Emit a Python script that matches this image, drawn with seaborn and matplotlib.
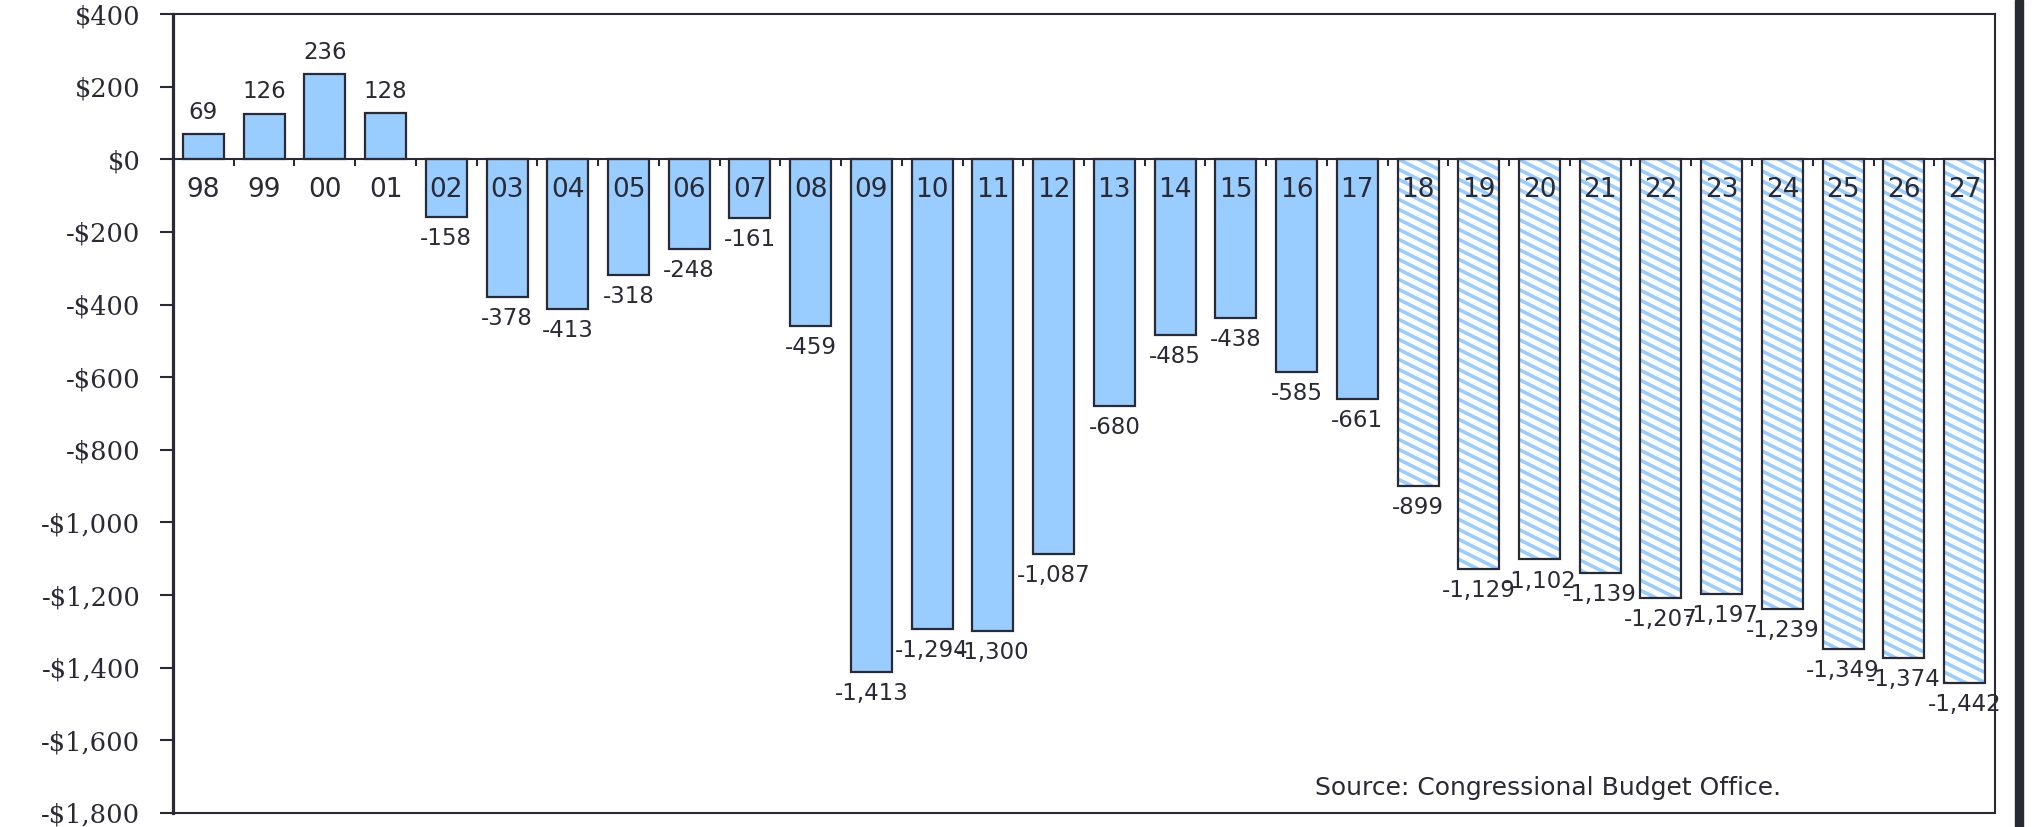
import numpy as np
import pandas as pd
import matplotlib
matplotlib.use("Agg")
import matplotlib.pyplot as plt
import matplotlib.hatch as mhatch
from matplotlib.path import Path
from matplotlib.patches import Rectangle
import seaborn as sns

# ---------------- data ----------------
years = ['98', '99', '00', '01', '02', '03', '04', '05', '06', '07', '08', '09',
         '10', '11', '12', '13', '14', '15', '16', '17', '18', '19', '20', '21',
         '22', '23', '24', '25', '26', '27']
deficits = [69, 126, 236, 128, -158, -378, -413, -318, -248, -161, -459, -1413,
            -1294, -1300, -1087, -680, -485, -438, -585, -661, -899, -1129,
            -1102, -1139, -1207, -1197, -1239, -1349, -1374, -1442]
first_projected = '18'
y_ticks = [400, 200, 0, -200, -400, -600, -800, -1000, -1200, -1400, -1600, -1800]
source_note = "Source: Congressional Budget Office."

BLUE = '#99CCFF'
DARK = '#2a2a35'


# shallower "\" hatch (the reference is horizontally stretched)
class ShallowSEHatch(mhatch.HatchPatternBase):
    def __init__(self, hatch, density):
        self.num_lines = int(round(hatch.count('\\') * density * 5 / 6))
        if self.num_lines:
            self.ks = np.arange(-2, int(1.5 * self.num_lines) + 3)
            self.num_vertices = len(self.ks) * 2
        else:
            self.num_vertices = 0

    def set_vertices_and_codes(self, vertices, codes):
        c = self.ks / self.num_lines
        x0, x1 = -0.2, 1.2
        vertices[0::2, 0] = x0
        vertices[0::2, 1] = c - 0.5 * x0
        vertices[1::2, 0] = x1
        vertices[1::2, 1] = c - 0.5 * x1
        codes[0::2] = Path.MOVETO
        codes[1::2] = Path.LINETO


if hasattr(mhatch, '_hatch_types'):
    mhatch._hatch_types = [ShallowSEHatch if t is mhatch.SouthEastHatch else t
                           for t in mhatch._hatch_types]

sns.set_style('white')
plt.rcParams['font.family'] = ['DejaVu Sans']
plt.rcParams['hatch.linewidth'] = 2.6

fig = plt.figure(figsize=(20.32, 8.27), dpi=100)
ax = fig.add_axes([173 / 2032, 14 / 827, (1995 - 173) / 2032, (813 - 14) / 827])

df = pd.DataFrame({'year': years, 'deficit': deficits})
sns.barplot(data=df, x='year', y='deficit', order=years, color=BLUE,
            saturation=1, edgecolor=DARK, linewidth=1.6, width=0.675,
            errorbar=None, ax=ax)

proj_idx = years.index(first_projected)
for i, p in enumerate(ax.patches):
    if i >= proj_idx:
        p.set_facecolor('white')
        p.set_edgecolor(BLUE)
        p.set_linewidth(0)
        p.set_hatch('\\\\')
        ax.add_patch(Rectangle(p.get_xy(), p.get_width(), p.get_height(),
                               fill=False, edgecolor=DARK, linewidth=1.6,
                               zorder=p.get_zorder() + 0.01))

for p, v in zip(list(ax.patches)[:len(deficits)], deficits):
    xc = p.get_x() + p.get_width() / 2
    ax.annotate(f"{v:,}", (xc, v), xytext=(0, 15.5 if v > 0 else -15.5),
                textcoords='offset points', ha='center', va='center',
                fontsize=16.5, color=DARK, zorder=5)

ax.set_xlim(-0.5, len(years) - 0.5)
ax.set_ylim(min(y_ticks), max(y_ticks))
ax.set_xlabel('')
ax.set_ylabel('')
ax.set_axisbelow(False)

ylabels = [f"-${abs(t):,}" if t < 0 else f"${t:,}" for t in y_ticks]
ax.set_yticks(y_ticks, labels=ylabels, fontfamily='DejaVu Serif')
ax.tick_params(axis='y', direction='out', length=9.4, width=1.5, pad=14,
               colors=DARK, left=True, labelsize=18.5)

ax.set_xticks(range(len(years)), labels=years)
ax.set_xticks(np.arange(-0.5, len(years), 1), minor=True)
ax.tick_params(axis='x', which='major', length=0, pad=13, colors=DARK,
               labelsize=19)
ax.tick_params(axis='x', which='minor', length=5, width=1.5, direction='out',
               color=DARK, bottom=True)
ax.xaxis.set_zorder(4)

ax.spines['bottom'].set_position(('data', 0))
for s in ['top', 'right', 'bottom']:
    ax.spines[s].set_color(DARK)
    ax.spines[s].set_linewidth(1.5)
ax.spines['left'].set_color(DARK)
ax.spines['left'].set_linewidth(2.3)
ax.axhline(min(y_ticks), color=DARK, lw=1.5, clip_on=False, zorder=3)

ax.text(0.627, 0.031, source_note, transform=ax.transAxes, ha='left',
        va='center', fontsize=18, color=DARK)

fig.add_artist(Rectangle((2015 / 2032, 0), 8 / 2032, 1,
                         transform=fig.transFigure, color=DARK))

fig.savefig('out.png', dpi=100)
